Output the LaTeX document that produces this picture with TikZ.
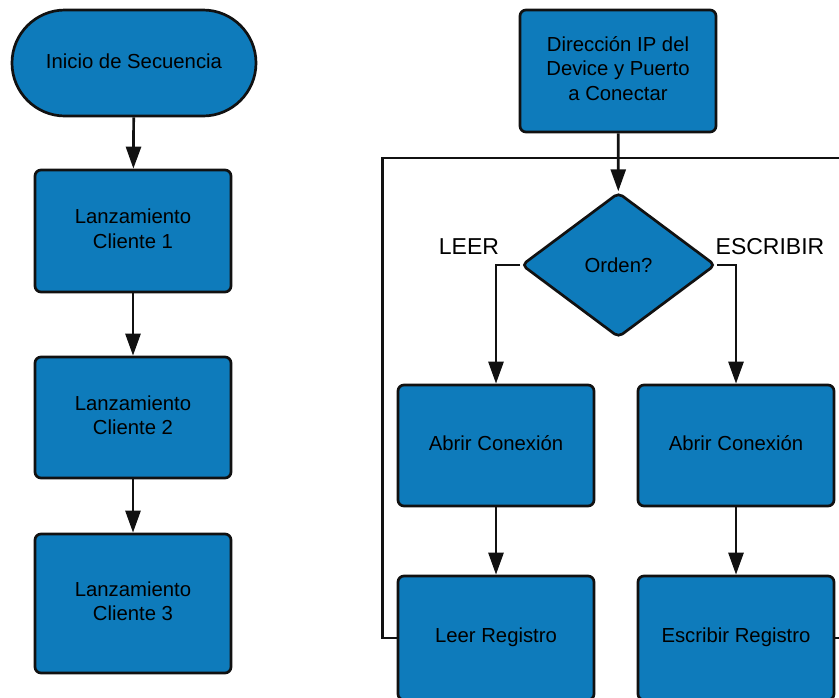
\documentclass[tikz,border=0pt]{standalone}
\usepackage{fontspec}
\setmainfont{Liberation Sans}
\usetikzlibrary{arrows.meta,shapes.geometric}
\definecolor{boxblue}{RGB}{14,123,187}
\definecolor{edgeblack}{RGB}{17,17,17}
% centred lines of text, lifted slightly inside their box
\newcommand{\lines}[2][2pt]{\raisebox{#1}{\begin{tabular}{@{}c@{}}#2\end{tabular}}}
\begin{document}
\begin{tikzpicture}[x=1pt,y=-1pt,
  every node/.style={font=\fontsize{20.3}{24.5}\selectfont, text=black},
  stepbox/.style={draw=edgeblack, fill=boxblue, line width=2.7pt, rounded corners=6pt,
    minimum width=196pt, minimum height=122pt, inner sep=0pt, align=center},
  terminal/.style={draw=edgeblack, fill=boxblue, line width=2.7pt, rounded corners=53pt,
    minimum width=244pt, minimum height=106pt, inner sep=0pt, align=center},
  decision/.style={draw=edgeblack, fill=boxblue, line width=2.7pt, diamond, rounded corners=5pt,
    minimum width=194pt, minimum height=145pt, aspect=1.34, inner sep=0pt},
  branchlabel/.style={font=\fontsize{23}{27}\selectfont},
  flow/.style={draw=edgeblack, line width=2.7pt, -{Triangle[length=22pt,width=15pt]}},
  link/.style={draw=edgeblack, line width=2.7pt}]
\useasboundingbox (0,0) rectangle (839,697);
\clip (0,0) rectangle (839,697);

% left column: launch sequence
\node[terminal] (inicio) at (134,63) {\raisebox{4pt}{Inicio de Secuencia}};
\node[stepbox, minimum height=122pt] (c1) at (133,231) {\lines{Lanzamiento\\Cliente 1}};
\node[stepbox, minimum height=121pt] (c2) at (133,417.5) {\lines{Lanzamiento\\Cliente 2}};
\node[stepbox, minimum height=139pt] (c3) at (133,603.5) {\lines{Lanzamiento\\Cliente 3}};

\draw[flow] (inicio) -- (c1);
\draw[flow] (c1) -- (c2);
\draw[flow] (c2) -- (c3);

% right column: client loop
\node[stepbox] (dir) at (618,71) {\lines[3pt]{Dirección IP del\\Device y Puerto\\a Conectar}};
\node[decision] (orden) at (618.5,265) {Orden?};
\node[stepbox, minimum height=121pt] (abrirL) at (496,445.5) {\raisebox{4pt}{Abrir Conexión}};
\node[stepbox, minimum height=121pt] (abrirR) at (736,445.5) {\raisebox{4pt}{Abrir Conexión}};
\node[stepbox, minimum height=124pt] (leer) at (496,638) {\raisebox{5pt}{Leer Registro}};
\node[stepbox, minimum height=124pt] (escr) at (736,638) {\raisebox{5pt}{Escribir Registro}};

\node[branchlabel] (lblL) at (469,247) {LEER};
\node[branchlabel] (lblR) at (770,247) {ESCRIBIR};

\coordinate (join) at (618,158);

\draw[flow] (dir) -- (orden);
\draw[flow] (orden.west) -| (abrirL.north);
\draw[flow] (orden.east) -| (abrirR.north);
\draw[flow] (abrirL) -- (leer);
\draw[flow] (abrirR) -- (escr);

% return paths back to the decision
\draw[link] (leer.west) -- ++(-14,0) |- (join);
\draw[link] (escr.east) -- ++(20,0) |- (join);
\end{tikzpicture}
\end{document}
